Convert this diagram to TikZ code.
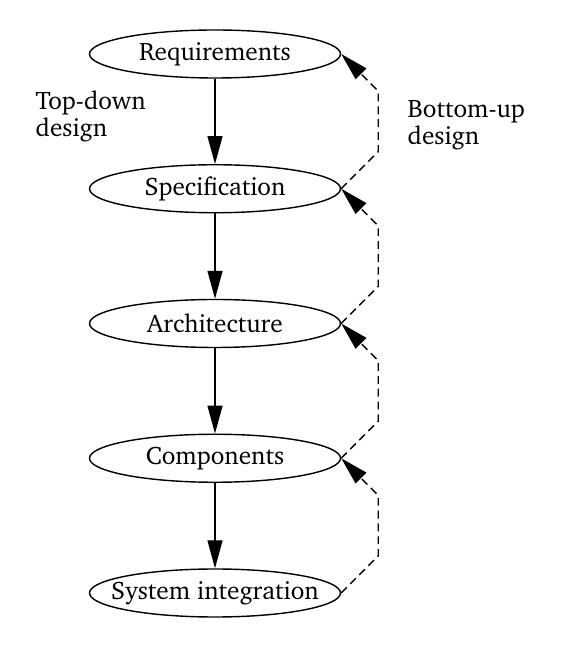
\documentclass[tikz,border=0pt]{standalone}
\usepackage[T1]{fontenc}
\usepackage{charter}
\usetikzlibrary{arrows.meta,shapes.geometric}
\tikzset{stagenode/.style={draw,ellipse,minimum width=5.02cm,minimum height=0.96cm,inner sep=0pt,font=\fontsize{14.4}{15.3}\selectfont,
	execute at begin node={\hbox to 0pt\bgroup\hss},execute at end node={\hss\egroup}}}
\tikzset{notelabel/.style={align=left,inner sep=0pt,anchor=north west,font=\fontsize{14.4}{15.3}\selectfont}}
\tikzset{downflow/.style={-{Triangle[length=0.56cm,width=0.3cm]}}}
\tikzset{upflow/.style={dash pattern=on 4.5pt off 2.8pt,-{Triangle[length=0.56cm,width=0.3cm]}}}

\begin{document}
\begin{tikzpicture}[line width=0.8pt]
		\useasboundingbox (0,0) rectangle (11.46,12.96);
		%
		\node[stagenode] (req) at (4.3,11.88) {Requirements};
		\node[stagenode] (spec) at (4.3,9.185) {Specification};
		\node[stagenode] (arch) at (4.3,6.49) {Architecture};
		\node[stagenode] (comp) at (4.3,3.795) {Components};
		\node[stagenode] (integ) at (4.3,1.1) {System integration};
		%
		\node[notelabel] (topdown) at (0.7,11.16) {Top-down\\design};
		\node[notelabel] (bottomup) at (8.14,10.96) {Bottom-up\\design};
		%
		\draw [downflow] (req) -- (spec);
		\draw [downflow] (spec) -- (arch);
		\draw [downflow] (arch) -- (comp);
		\draw [downflow] (comp) -- (integ);
		%
		\draw [upflow] (spec.east) -- ++(0.74,0.74) -- ([shift={(0.74,-0.74)}]req.east) -- (req.east);
		\draw [upflow] (arch.east) -- ++(0.74,0.74) -- ([shift={(0.74,-0.74)}]spec.east) -- (spec.east);
		\draw [upflow] (comp.east) -- ++(0.74,0.74) -- ([shift={(0.74,-0.74)}]arch.east) -- (arch.east);
		\draw [upflow] (integ.east) -- ++(0.74,0.74) -- ([shift={(0.74,-0.74)}]comp.east) -- (comp.east);
	\end{tikzpicture}
\end{document}
